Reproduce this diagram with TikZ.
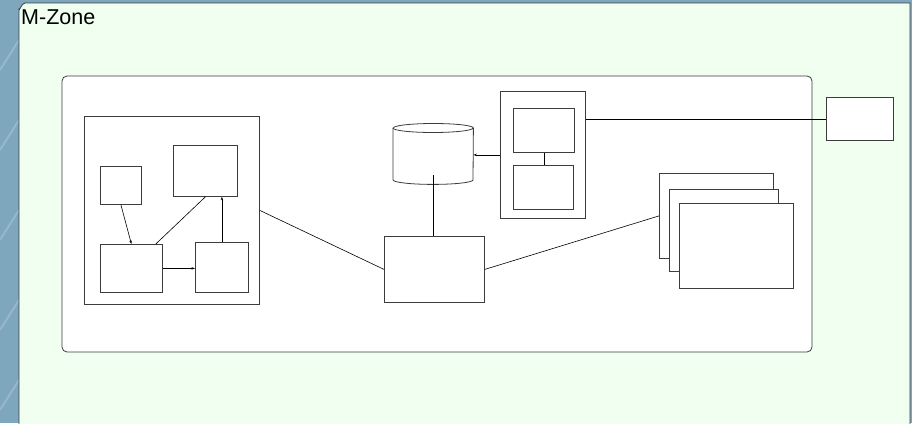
\documentclass[tikz,border=0pt]{standalone}
\usepackage{fontspec}
\newfontfamily\zonefont{Liberation Sans}
\usetikzlibrary{arrows.meta, positioning}
\definecolor{zonegreen}{RGB}{240,255,240}
\definecolor{backblue}{RGB}{126,166,188}
\definecolor{linegray}{RGB}{60,60,60}

\begin{document}
\begin{tikzpicture}[x=1pt, y=-1pt,
      box/.style={draw=linegray, fill=white, line width=0.8pt, inner sep=0pt, anchor=north west},
      arrow/.style={-{Stealth[length=3.5pt,width=2.5pt]}, line width=0.6pt},
      link/.style={line width=0.6pt}
    ]
    \useasboundingbox (0,0) rectangle (912,423);
    % background and zone
    \fill[backblue] (0,0) rectangle (912,423);
    \foreach \y in {40,120,210,300,380}
      \draw[white, opacity=0.2, line width=2pt] (0,\y+30) -- (19,\y);
    \draw[draw=linegray, fill=zonegreen, line width=0.8pt]
      (19,430) -- (19,9) to[out=-90,in=180] (25,3) -- (910,3) -- (910,430);
    \node[anchor=base west, inner sep=0pt, font=\zonefont\fontsize{21.5}{21.5}\selectfont] (title) at (21,24) {M-Zone};
    \draw[draw=linegray, fill=white, line width=0.8pt, rounded corners=5pt] (62,76) rectangle (812,352);

    % left group
    \node[box, minimum width=175pt, minimum height=188pt] (group) at (84,116) {};
    \node[box, minimum width=41pt, minimum height=38pt] (small) at (100,166) {};
    \node[box, minimum width=64pt, minimum height=51pt] (upper) at (173,145) {};
    \node[box, minimum width=62pt, minimum height=48pt] (lowleft) at (100,244) {};
    \node[box, minimum width=53pt, minimum height=50pt] (lowright) at (195,242) {};
    \draw[arrow] (small.south) -- (lowleft.north);
    \draw[link] (upper.south) -- ([xshift=-7pt]lowleft.north east);
    \draw[arrow] (lowleft.east) -- (lowleft.east -| lowright.west);
    \draw[arrow] (lowright.north) -- (lowright.north |- upper.south);

    % centre
    \node[box, minimum width=100pt, minimum height=66pt] (hub) at (384,236) {};
    \node[inner sep=0pt, anchor=north west, minimum width=80pt, minimum height=42.5pt] (store) at (393,132.5) {};
    \draw[draw=linegray, fill=white, line width=0.8pt]
      ([yshift=4.5pt]store.north west) -- ([yshift=-4.5pt]store.south west)
      arc[start angle=180, end angle=360, x radius=40pt, y radius=4.5pt]
      -- ([yshift=4.5pt]store.north east)
      arc[start angle=0, end angle=180, x radius=40pt, y radius=4.5pt] -- cycle;
    \draw[draw=linegray, line width=0.8pt] ([yshift=4.5pt]store.north west)
      arc[start angle=180, end angle=360, x radius=40pt, y radius=4.5pt];
    \draw[link] (store.south) -- (store.south |- hub.north);

    % right group
    \node[box, minimum width=85pt, minimum height=127pt] (pair) at (500,91) {};
    \node[box, minimum width=61pt, minimum height=44pt] (pairtop) at (513,108) {};
    \node[box, minimum width=60pt, minimum height=44pt] (pairlow) at (513,165) {};
    \draw[link] (pairtop.south) -- (pairtop.south |- pairlow.north);
    \draw[arrow] (pair.west) -- (pair.west -| store.east);
    \node[box, minimum width=67pt, minimum height=43pt] (remote) at (826,97) {};
    \draw[link] (remote.west -| pair.east) -- (remote.west);

    % stack
    \node[box, minimum width=114pt, minimum height=85pt] (stackA) at (659,173) {};
    \node[box, minimum width=109pt, minimum height=82pt] (stackB) at (669,189) {};
    \node[box, minimum width=114pt, minimum height=85pt] (stackC) at (679,203) {};

    % links to hub
    \draw[link] (group.east) -- (hub.west);
    \draw[link] (hub.east) -- (stackA.west);
  \end{tikzpicture}
\end{document}
